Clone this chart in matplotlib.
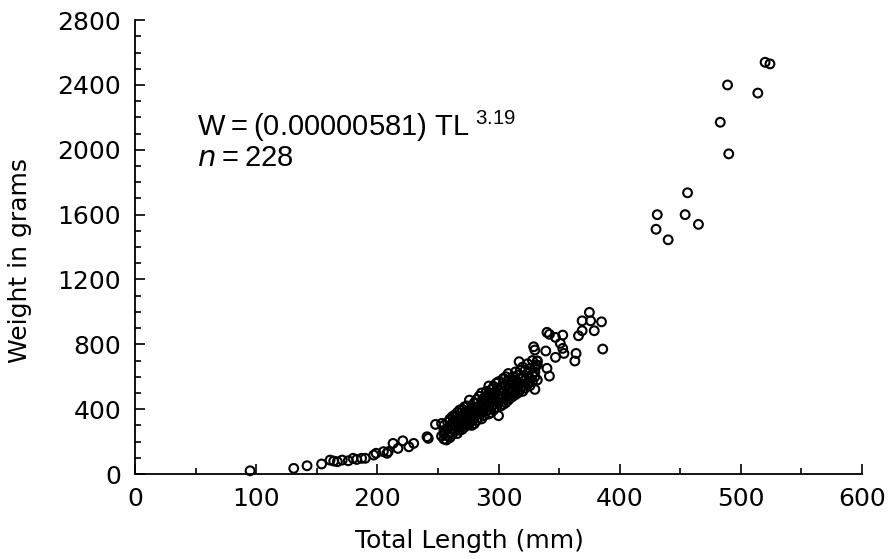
import matplotlib
matplotlib.use("Agg")
import matplotlib.pyplot as plt
from matplotlib.ticker import MultipleLocator

# ---- data ----
small_len = [95, 131, 142, 154, 161, 164, 167, 171, 176, 180, 183, 187, 190, 197, 199,
             205, 208, 209, 213, 217, 221, 226, 230, 241, 242, 248, 253, 253, 257, 260]
small_wt = [20, 35, 51, 62, 86, 80, 76, 86, 82, 97, 90, 97, 97, 117, 128,
            138, 128, 138, 189, 158, 205, 168, 189, 230, 220, 306, 312, 234, 210, 333]

# dense cluster: length values and the weights observed at each length
dense_len_bins = [255, 258, 260, 262, 264, 266, 268, 270, 272, 274,
                  276, 278, 280, 282, 284, 286, 288, 290, 292, 294,
                  296, 298, 300, 302, 304, 306, 308, 310, 312, 314,
                  316, 318, 320, 322, 324, 326, 328, 330, 332]
dense_wt_bins = [[215, 250, 300, 270], [235, 320, 280], [260, 340, 225, 300],
                 [280, 355, 245, 310], [270, 365, 300, 330], [290, 250, 380, 335],
                 [310, 270, 395, 350], [300, 345, 400, 275, 360], [320, 380, 290, 415],
                 [335, 300, 420, 365], [350, 390, 310, 456, 370], [330, 420, 380, 300],
                 [360, 310, 440, 395, 345], [370, 460, 330, 410], [350, 420, 480, 390],
                 [380, 450, 340, 500, 415], [400, 360, 470, 430], [390, 480, 440, 510],
                 [420, 370, 500, 543, 455], [410, 490, 380, 520], [430, 470, 395, 540, 455],
                 [450, 410, 500, 560], [440, 520, 480, 570, 360], [460, 420, 530, 495],
                 [470, 560, 430, 510, 590], [490, 440, 545, 600], [480, 530, 455, 580, 620],
                 [500, 560, 470, 530], [520, 480, 600, 555], [510, 580, 490, 630, 545],
                 [540, 500, 610, 570], [560, 520, 640, 590], [545, 600, 510, 660],
                 [580, 530, 640], [560, 620, 680], [590, 545, 650],
                 [610, 570, 700], [600, 660, 522, 630], [697, 672, 580]]

upper_len = [317, 332, 331, 340, 342, 339, 347, 329, 330, 340, 342, 347, 353,
             351, 353, 354, 363, 364, 366, 369, 369, 375, 376, 379, 385, 386]
upper_wt = [693, 697, 672, 652, 604, 759, 720, 785, 765, 874, 862, 843, 857,
            806, 775, 744, 697, 744, 853, 884, 945, 997, 945, 884, 939, 771]

large_len = [430, 431, 440, 454, 456, 465, 483, 489, 490, 514, 520, 524]
large_wt = [1510, 1600, 1445, 1600, 1735, 1540, 2170, 2400, 1975, 2350, 2540, 2530]

x_ticks = [0, 100, 200, 300, 400, 500, 600]
y_ticks = [0, 400, 800, 1200, 1600, 2000, 2400, 2800]

dense_len, dense_wt = [], []
for L, ws in zip(dense_len_bins, dense_wt_bins):
    for w in ws:
        dense_len.append(L)
        dense_wt.append(w)

# ---- figure ----
plt.rcParams["mathtext.default"] = "regular"
fig = plt.figure(figsize=(8.91, 5.59), dpi=100)
ax = fig.add_axes([0.1515, 0.152, 0.816, 0.812])

all_len = small_len + dense_len + upper_len + large_len
all_wt = small_wt + dense_wt + upper_wt + large_wt
ax.scatter(all_len, all_wt, s=40, facecolors="none", edgecolors="black",
           linewidths=1.5, clip_on=False, zorder=3)

ax.set_xlim(0, 600)
ax.set_ylim(0, 2800)
ax.set_xticks(x_ticks)
ax.set_yticks(y_ticks)
ax.xaxis.set_minor_locator(MultipleLocator(50))
ax.yaxis.set_minor_locator(MultipleLocator(100))
ax.tick_params(which="both", direction="in", color="black", width=1.2)
ax.tick_params(which="major", length=7, labelsize=18)
ax.tick_params(axis="x", which="major", pad=9)
ax.tick_params(axis="y", which="major", pad=10)
ax.tick_params(which="minor", length=4)
ax.spines["top"].set_visible(False)
ax.spines["right"].set_visible(False)
for s in ("left", "bottom"):
    ax.spines[s].set_linewidth(1.3)

ax.set_xlabel("Total Length (mm)", fontsize=18)
ax.xaxis.set_label_coords(0.46, -0.121)
ax.set_ylabel("Weight in grams", fontsize=18)
ax.yaxis.set_label_coords(-0.142, 0.47)

ax.text(51, 2085, "W\u2009=\u2009(0.00000581) TL$^{\\ 3.19}$", fontsize=21,
        family="Liberation Sans", color="black")
ax.text(51, 1900, "$\\mathit{n}$\u2009=\u2009228", fontsize=21,
        family="Liberation Sans", color="black")

fig.savefig("out.png", dpi=100)
